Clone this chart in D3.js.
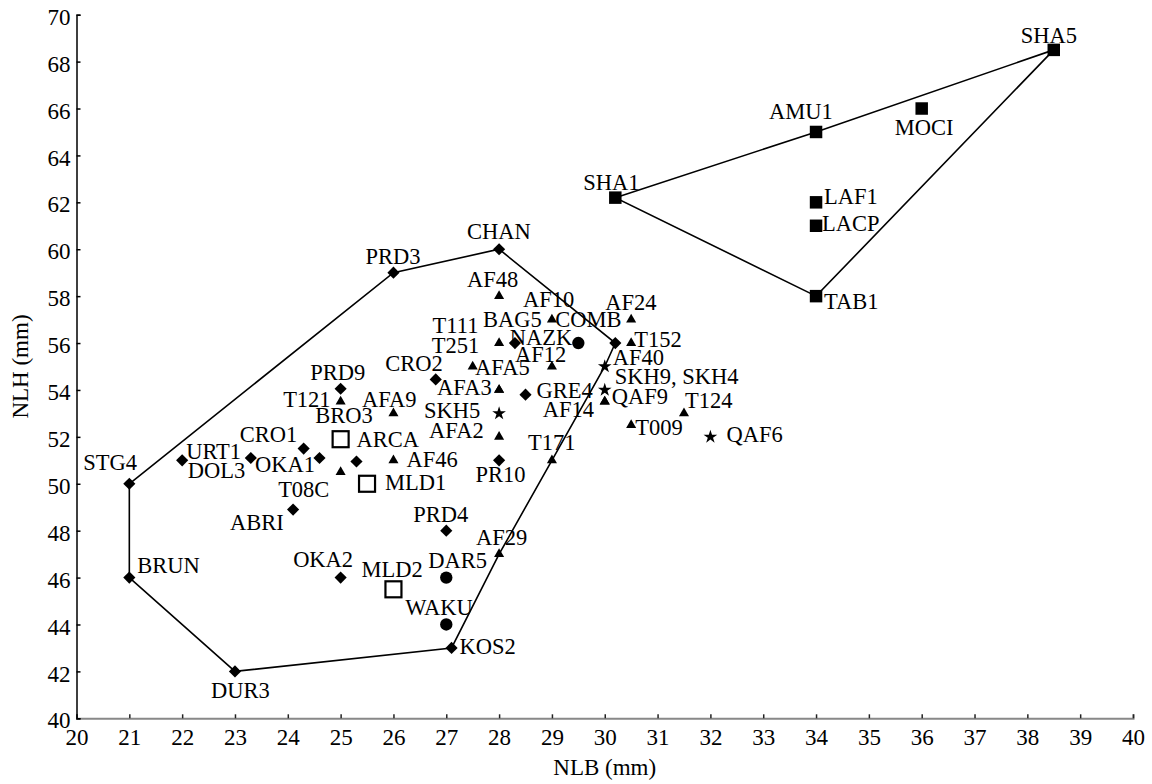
<!DOCTYPE html>
<html>
<head>
<meta charset="utf-8">
<script src="https://cdn.jsdelivr.net/npm/d3@7"></script>
<style>
  body { margin: 0; background: #fff; }
  svg text { font-family: 'Liberation Serif', 'Tinos', 'Times New Roman', 'DejaVu Serif', serif !important; fill: #000; }
</style>
</head>
<body>
<div id="chart"></div>
<script>
// specimens: [name, NLB, NLH]
const diamonds = [
  ['STG4', 21, 50], ['PRD3', 26, 59], ['CHAN', 28, 60], ['COMB', 30.2, 56],
  ['KOS2', 27.1, 43], ['DUR3', 23, 42], ['BRUN', 21, 46],
  ['URT1', 22, 51], ['DOL3', 23.3, 51.1], ['CRO1', 24.3, 51.5], ['OKA1', 24.6, 51.1],
  ['ARCA', 25.3, 50.95], ['ABRI', 24.1, 48.9], ['OKA2', 25, 46], ['PRD9', 25, 54.05],
  ['PRD4', 27, 48], ['CRO2', 26.8, 54.45], ['BAG5', 28.3, 56], ['GRE4', 28.5, 53.8],
  ['PR10', 28, 51]
];
const triangles = [
  ['T171', 29, 51], ['AF29', 28, 47], ['T08C', 25, 50.5], ['T121', 25, 53.5],
  ['AFA9', 26, 53], ['AF46', 26, 51], ['T251', 27.5, 55], ['AFA5', 28, 54],
  ['AFA3', 28, 54], ['T111', 28, 56], ['AF48', 28, 58], ['AF10', 29, 57],
  ['AF12', 29, 55], ['AFA2', 28, 52], ['AF24', 30.5, 57], ['T152', 30.5, 56],
  ['QAF9', 30, 53.5], ['AF14', 30, 53.5], ['T124', 31.5, 53], ['T009', 30.5, 52.5]
];
const stars = [
  ['AF40', 30, 55], ['SKH9, SKH4', 30, 54], ['SKH5', 28, 53], ['QAF6', 32, 52]
];
const circles = [
  ['NAZK', 29.5, 56], ['DAR5', 27, 46], ['WAKU', 27, 44]
];
const openSquares = [
  ['BRO3', 25, 51.9], ['MLD1', 25.5, 50], ['MLD2', 26, 45.5]
];
const filledSquares = [
  ['SHA1', 30.2, 62.2], ['AMU1', 34, 65], ['SHA5', 38.5, 68.5], ['TAB1', 34, 58],
  ['MOCI', 36, 66], ['LAF1', 34, 62], ['LACP', 34, 61]
];

const hullA = ['STG4', 'PRD3', 'CHAN', 'COMB', 'AF40', 'T171', 'AF29', 'KOS2', 'DUR3', 'BRUN'];
const hullB = ['SHA1', 'AMU1', 'SHA5', 'TAB1'];

const xTicks = d3.range(20, 41, 1);
const yTicks = d3.range(40, 71, 2);

// label placement (px from marker centre to text start / baseline)
const labelAt = {
  STG4: [-46, -14], PRD3: [-28, -9], CHAN: [-32, -10], COMB: [-60, -16], AF40: [8, -1.5],
  T171: [-24, -10], AF29: [-23, -9], KOS2: [8, 6.5], DUR3: [-24, 27], BRUN: [8, -5],
  SHA1: [-32, -7.5], AMU1: [-47, -13], SHA5: [-33, -6.5], TAB1: [8, 13], MOCI: [-27, 26.5],
  LAF1: [8, 2], LACP: [6, 5],
  URT1: [4, -1], DOL3: [-63, 20.5], CRO1: [-64, -7], OKA1: [-64.5, 14], ARCA: [0, -14],
  T08C: [-62.5, 24.5], BRO3: [-25.5, -16], PRD9: [-30.5, -9], T121: [-57.5, 5],
  AFA9: [-31.5, -6.5], AF46: [13, 6.5], MLD1: [18, 6.3], ABRI: [-63, 20.5],
  OKA2: [-47.5, -11], MLD2: [-32, -12.5], PRD4: [-33, -9], DAR5: [-18, -10],
  WAKU: [-41, -9.5], CRO2: [-50.5, -8.5], T251: [-41, -13.5], AFA5: [-24, -15],
  AFA3: [-62, 5], T111: [-66.5, -10], BAG5: [-32, -16], AF48: [-32, -9], AF10: [-29, -13],
  NAZK: [-68.5, 2], AF12: [-37, -5], GRE4: [11, 3.7], SKH5: [-75, 5], AFA2: [-70, 1.5],
  PR10: [-23.5, 21.5], AF24: [-26, -9.5], T152: [3, 3.7], 'SKH9, SKH4': [10, -5.5],
  QAF9: [7, 2.7], AF14: [-62, 15], T124: [1, -5], T009: [4, 10], QAF6: [16, 5]
};

const W = 1152, H = 784;
const serif = "'Liberation Serif', 'Tinos', 'Times New Roman', 'DejaVu Serif', serif";
const x = d3.scaleLinear().domain([20, 40]).range([76.5, 1133]);
const y = d3.scaleLinear().domain([40, 70]).range([718.3, 14.7]);

const svg = d3.select('#chart').append('svg')
  .attr('width', W)
  .attr('height', H)
  .attr('font-family', serif);

// axes
const xAxis = svg.append('g')
  .attr('transform', `translate(0,${y(40)})`)
  .call(d3.axisBottom(x).tickValues(xTicks).tickSize(-4).tickPadding(10).tickFormat(d3.format('d')));
xAxis.attr('font-family', serif);
xAxis.select('.domain').attr('stroke', '#888').attr('stroke-width', 2);
xAxis.selectAll('.tick line').attr('stroke', '#222').attr('stroke-width', 1.5);
xAxis.selectAll('.tick text')
  .attr('font-size', 23)
  .attr('dy', '0.72em');

const yAxis = svg.append('g')
  .attr('transform', `translate(${x(20)},0)`)
  .call(d3.axisLeft(y).tickValues(yTicks).tickSize(-4).tickPadding(6).tickFormat(d3.format('d')));
yAxis.attr('font-family', serif);
yAxis.select('.domain').attr('stroke', '#000').attr('stroke-width', 1.5);
yAxis.selectAll('.tick line').attr('stroke', '#000').attr('stroke-width', 1.5);
yAxis.selectAll('.tick text')
  .attr('font-size', 23)
  .attr('dy', '0.42em');

svg.append('text')
  .attr('x', (x(20) + x(40)) / 2)
  .attr('y', 775)
  .attr('text-anchor', 'middle')
  .attr('font-size', 23)
  .text('NLB (mm)');

svg.append('text')
  .attr('transform', `translate(28,${(y(40) + y(70)) / 2}) rotate(-90)`)
  .attr('text-anchor', 'middle')
  .attr('font-size', 23)
  .text('NLH (mm)');

// hull outlines
const all = [].concat(diamonds, triangles, stars, circles, openSquares, filledSquares);
const byName = {};
all.forEach(d => { if (!byName[d[0]]) byName[d[0]] = d; });

const line = d3.line().x(d => x(d[1])).y(d => y(d[2])).curve(d3.curveLinearClosed);
[hullA, hullB].forEach(h => {
  svg.append('path')
    .attr('d', line(h.map(n => byName[n])))
    .attr('fill', 'none')
    .attr('stroke', '#000')
    .attr('stroke-width', 1.6);
});

// markers
const marks = svg.append('g');
function drawSymbols(data, type, size, rot) {
  marks.selectAll(null)
    .data(data)
    .enter()
    .append('path')
    .attr('d', d3.symbol().type(type).size(size))
    .attr('transform', d => `translate(${x(d[1])},${y(d[2])}) rotate(${rot})`)
    .attr('fill', '#000');
}
drawSymbols(diamonds, d3.symbolSquare, 74, 45);
drawSymbols(triangles, d3.symbolTriangle, 44, 0);
drawSymbols(stars, d3.symbolStar, 58, 0);
drawSymbols(circles, d3.symbolCircle, 120, 0);
drawSymbols(filledSquares, d3.symbolSquare, 156, 0);

marks.selectAll(null)
  .data(openSquares)
  .enter()
  .append('rect')
  .attr('x', d => x(d[1]) - 8)
  .attr('y', d => y(d[2]) - 8)
  .attr('width', 16)
  .attr('height', 16)
  .attr('fill', '#fff')
  .attr('stroke', '#000')
  .attr('stroke-width', 2.2);

// labels
svg.append('g').selectAll('text')
  .data(all)
  .enter()
  .append('text')
  .attr('x', d => x(d[1]) + labelAt[d[0]][0])
  .attr('y', d => y(d[2]) + labelAt[d[0]][1])
  .attr('font-size', 22.5)
  .text(d => d[0]);
</script>
</body>
</html>
